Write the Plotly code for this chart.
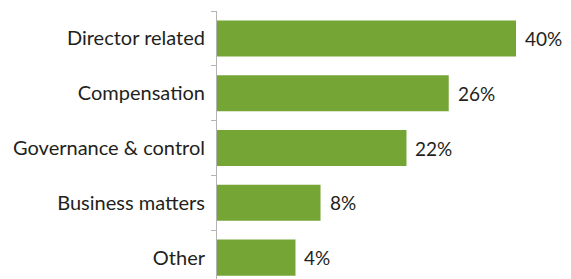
import plotly.graph_objects as go

categories = ["Director related", "Compensation", "Governance & control", "Business matters", "Other"]
pct_labels = [40, 26, 22, 8, 4]
# bar lengths as drawn in the picture (scaled so the 40% bar = 40)
bar_values = [40, 31.0, 25.35, 13.85, 10.5]

green = "#74a535"
font_family = "Lato, 'Noto Sans', sans-serif"

fig = go.Figure(go.Bar(
    y=categories,
    x=bar_values,
    orientation="h",
    marker=dict(color=green, line=dict(width=0)),
    hoverinfo="skip",
))

for cat, v, p in zip(categories, bar_values, pct_labels):
    fig.add_annotation(
        x=v, y=cat, text=f"{p}%", showarrow=False,
        xanchor="left", yanchor="middle", xshift=7,
        font=dict(size=19, color="#231f20", family=font_family),
    )

# page body has an 8px default margin, so the figure is sized/offset for that
fig.update_layout(
    width=563, height=271,
    margin=dict(l=209, r=0, t=3, b=0, autoexpand=False),
    paper_bgcolor="white", plot_bgcolor="white",
    bargap=0.343,
    showlegend=False,
    font=dict(family=font_family, color="#231f20"),
)
fig.update_xaxes(range=[0, 40 * 354 / 299], visible=False, showgrid=False,
                 zeroline=False, automargin=False)
fig.update_yaxes(
    type="category",
    categoryorder="array", categoryarray=categories,
    range=[4.39, -0.5],
    automargin=False,
    showline=True, linecolor="#b3b3b3", linewidth=1,
    ticks="outside", ticklen=5, tickcolor="#b3b3b3", tickwidth=1,
    tickson="boundaries",
    ticklabelstandoff=7,
    tickfont=dict(size=20, color="#231f20", family=font_family),
    showgrid=False, zeroline=False,
)

fig.write_html("out.html")
